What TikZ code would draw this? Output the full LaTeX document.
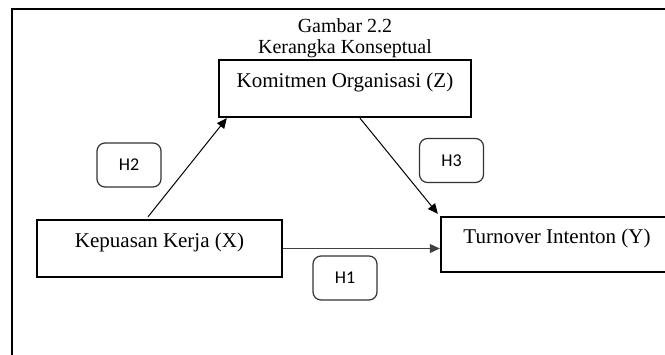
\documentclass[tikz,border=0pt]{standalone}
\usepackage{fontspec}
\setmainfont{Liberation Serif}
\newfontfamily\hypfont{Carlito}
\usetikzlibrary{arrows.meta}

\begin{document}
\begin{tikzpicture}[
  x=0.5pt, y=-0.5pt,
  font=\fontsize{10.5}{12}\selectfont,
  var/.style={rectangle, draw, line width=1.2pt, inner sep=0pt,
              text height=7.5pt, text depth=9pt},
  hyp/.style={rectangle, rounded corners=4pt, draw=black!80, line width=0.6pt,
              minimum width=32pt, minimum height=22pt,
              font=\hypfont\fontsize{9}{10}\selectfont},
  arr/.style={-{Triangle[length=5pt, width=4.5pt]}, line width=0.5pt},
  ]
  \useasboundingbox (0,0) rectangle (665,354);
  \clip (0,0) rectangle (665,354);

  %% Outer frame (runs off the right and bottom edge)
  \draw[line width=1pt] (12,9) rectangle (690,380);

  %% Title and variables
  \node[align=center, font=\fontsize{10}{10.5}\selectfont] (judul) at (345,38)
        {Gambar 2.2\\Kerangka Konseptual};
  \node[var, minimum width=126pt, minimum height=28.5pt] (komitmen) at (345,88.5)
        {Komitmen Organisasi (Z)};
  \node[var, minimum width=122.5pt, minimum height=28.5pt] (kepuasan) at (159.5,248.5)
        {Kepuasan Kerja (X)};
  \node[var, minimum width=116pt, minimum height=27.5pt] (turnover) at (557,244.5)
        {Turnover Intenton (Y)};

  %% Hypothesis labels
  \node[hyp] (h2) at (129,165)   {H2};
  \node[hyp] (h3) at (451.5,160.5) {H3};
  \node[hyp] (h1) at (345,278)   {H1};

  %% Paths
  % X -> Z
  \draw[arr] ([xshift=-5.75pt, yshift=1pt]kepuasan.north) -- ([xshift=4.5pt]komitmen.south west);
  % Z -> Y
  \draw[arr] ([xshift=7.5pt]komitmen.south) -- ([xshift=-1pt, yshift=1pt]turnover.north west);
  % X -> Y
  \draw[arr, black!75] (kepuasan.east) -- (kepuasan.east -| turnover.west);
\end{tikzpicture}
\end{document}
